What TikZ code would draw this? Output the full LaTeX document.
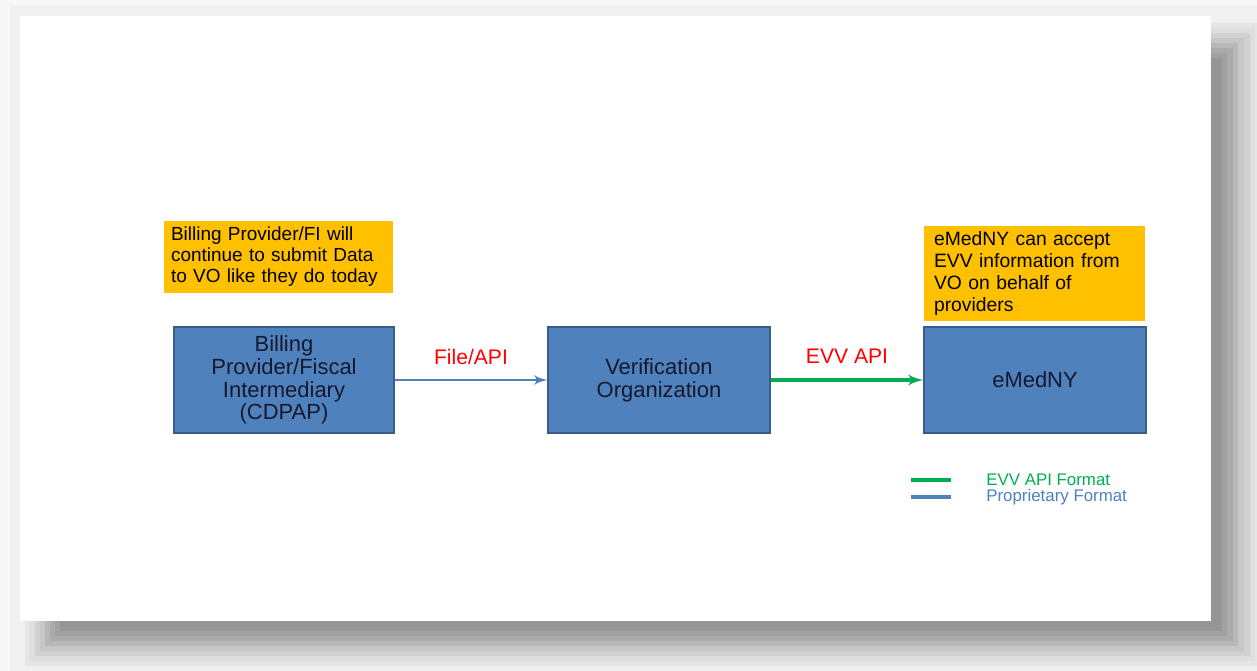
\documentclass[tikz,border=0pt]{standalone}
\usepackage{fontspec}
\setmainfont{Liberation Sans}
\usetikzlibrary{arrows}
\usetikzlibrary{positioning}
\definecolor{boxblue}{HTML}{4F81BD}
\definecolor{boxedge}{HTML}{385D8A}
\definecolor{noteorange}{HTML}{FFC000}
\definecolor{evvgreen}{HTML}{00B050}
\definecolor{boxtext}{HTML}{14192E}
\tikzset{box/.style = {draw = boxedge, fill = boxblue, line width = 0.8pt,
                       minimum width = 4.4cm, minimum height = 2.12cm, align = center,
                       text = boxtext, font = \fontsize{12.5}{13}\selectfont}}
\tikzset{note/.style = {fill = noteorange, inner xsep = 0.2cm, align = left,
                        font = \fontsize{11}{12}\selectfont}}
\tikzset{flow/.style = {-latex', line width = 1.6pt}}
\tikzset{tag/.style = {text = red, font = \fontsize{12}{14}\selectfont}}
\tikzset{key/.style = {anchor = west, inner sep = 0, font = \fontsize{9.6}{10}\selectfont}}

\begin{document}
\begin{tikzpicture}[x = 0.02cm, y = -0.02cm]
      \useasboundingbox (0, 0) rectangle (1257, 671);
      \fill [black!3] (0, 0) rectangle (1257, 671);
      \fill [black!6] (10, 5) rectangle (1257, 671);
      \fill [black!10] (25, 23) rectangle (1257, 666);
      \fill [black!13] (30, 28) rectangle (1255, 661);
      \fill [black!18] (35, 33) rectangle (1250, 656);
      \fill [black!22] (40, 38) rectangle (1244, 651);
      \fill [black!28] (45, 43) rectangle (1238, 646);
      \fill [black!33] (50, 48) rectangle (1233, 641);
      \fill [black!37] (55, 53) rectangle (1227, 636);
      \fill [black!41] (60, 58) rectangle (1222, 631);
      \fill [white] (20, 16) rectangle (1211, 621);

      \node [box] (billing) at (284, 380) {Billing\\Provider/Fiscal\\Intermediary\\(CDPAP)};
      \node [box, minimum width = 4.44cm] (vo) at (659, 380) {Verification\\Organization};
      \node [box, minimum width = 4.44cm] (emedny) at (1035, 380) {eMedNY};

      \node [note, inner xsep = 0.14cm, text width = 4.3cm, minimum height = 1.44cm,
             font = \fontsize{10.8}{11.9}\selectfont] (notefi) at (278.5, 257)
            {Billing Provider/FI will\\continue to submit Data\\to VO like they do today};
      \node [note, text width = 4.02cm, minimum height = 1.9cm,
             font = \fontsize{11}{12.5}\selectfont] (noteny) at (1034.5, 273.5)
            {eMedNY can accept\\EVV information from\\VO on behalf of\\providers};

      \draw [flow, boxblue] (billing) -- node [tag, above = 0.17cm] {File/API} (vo);
      \draw [flow, evvgreen, line width = 2pt] (vo) -- node [tag, above = 0.17cm] {EVV API} (emedny);

      \coordinate (evva) at (911, 480);
      \coordinate (evvb) at (951, 480);
      \coordinate (propa) at (911, 497);
      \coordinate (propb) at (951, 497);
      \draw [evvgreen, line width = 1.8pt] (evva) -- (evvb);
      \draw [boxblue, line width = 1.8pt] (propa) -- (propb);
      \node [key, text = evvgreen] (keyevv) at (986, 480) {EVV API Format};
      \node [key, text = boxblue] (keyprop) at (986, 497) {Proprietary Format};
    \end{tikzpicture}
\end{document}
